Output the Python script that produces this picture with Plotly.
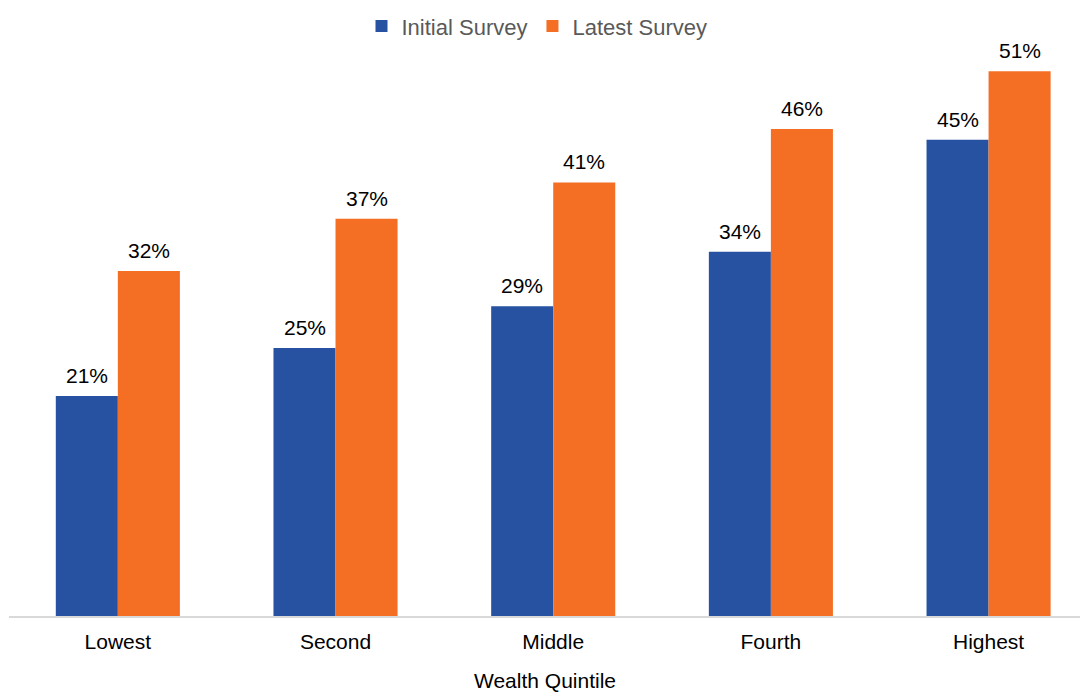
import plotly.graph_objects as go

categories = ["Lowest", "Second", "Middle", "Fourth", "Highest"]
initial = [20.6, 25.1, 29.0, 34.1, 44.6]
latest = [32.3, 37.2, 40.6, 45.6, 51.0]
x_title = "Wealth Quintile"

series = [("Initial Survey", initial, "#2752A1", -31),
          ("Latest Survey", latest, "#F46F24", 31)]

fig = go.Figure()
for name, vals, color, _ in series:
    fig.add_trace(go.Bar(x=categories, y=vals, name=name,
                         marker=dict(color=color, line=dict(width=0))))

for name, vals, color, dx in series:
    for c, v in zip(categories, vals):
        fig.add_annotation(x=c, y=v, xref="x", yref="y", text=f"{v:.0f}%",
                           showarrow=False, xshift=dx, yshift=7, yanchor="bottom",
                           font=dict(size=21, color="#000000"))

fig.add_annotation(x=0.5, y=-0.114, xref="paper", yref="paper", text=x_title,
                   showarrow=False, xanchor="center", yanchor="middle",
                   font=dict(size=21, color="#000000"))

fig.update_layout(
    width=1082, height=693,
    margin=dict(l=9, r=2, t=50, b=77),
    paper_bgcolor="white", plot_bgcolor="white",
    font=dict(family="Liberation Sans, Arial, sans-serif", size=21, color="#000000"),
    barmode="group", bargap=0.43, bargroupgap=0,
    showlegend=True,
    legend=dict(orientation="h", x=0.493, xanchor="center", y=1.042, yanchor="middle",
                font=dict(size=22, color="#595959"), itemwidth=30, traceorder="normal"),
    xaxis=dict(range=[-0.5, 4.42], showline=True, linecolor="#D9D9D9", linewidth=2,
               ticks="", tickfont=dict(size=21, color="#000000"), ticklabelstandoff=6,
               automargin=False),
    yaxis=dict(range=[0, 53], visible=False, showgrid=False, zeroline=False),
)
fig.write_html("out.html")
